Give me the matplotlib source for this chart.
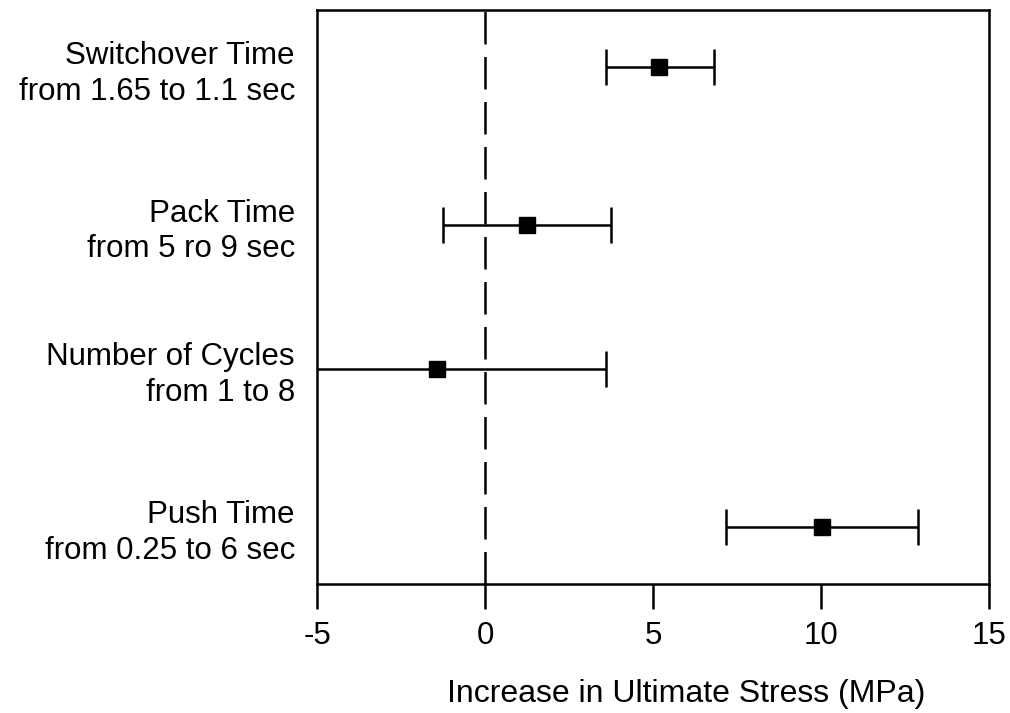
import numpy as np
from matplotlib import pyplot as plt

plt.rcParams["font.family"] = ["Liberation Sans", "DejaVu Sans"]

# factors, effects and 95% interval ends (MPa)
factors = ["Switchover Time\nfrom 1.65 to 1.1 sec",
           "Pack Time\nfrom 5 ro 9 sec",
           "Number of Cycles\nfrom 1 to 8",
           "Push Time\nfrom 0.25 to 6 sec"]
row_pos = [3.6, 2.5, 1.5, 0.4]
effect = np.array([5.19, 1.24, -1.42, 10.02])
low = np.array([3.59, -1.25, -5.6, 7.16])
high = np.array([6.81, 3.75, 3.59, 12.89])

xticks = [-5, 0, 5, 10, 15]

fig = plt.figure(figsize=(10.1, 7.13), dpi=100)
ax = fig.add_axes([0.314, 0.181, 0.665, 0.805])

ax.axvline(0, color="black", linewidth=1.8, linestyle=(0, (13, 5)), zorder=1)

err = [effect - low, high - effect]
ax.errorbar(effect, row_pos, xerr=err, fmt="s", color="black", markersize=11,
            elinewidth=1.8, capsize=13, capthick=1.8, zorder=3)

ax.set_xlim(-5, 15)
ax.set_ylim(0, 4)
ax.set_xticks(xticks)
ax.set_xticklabels([str(x) for x in xticks])
ax.set_yticks(row_pos)
ax.set_yticklabels(factors, multialignment="right", linespacing=1.25)

ax.tick_params(axis="x", direction="out", length=18, width=1.8, pad=9, labelsize=22.5)
ax.tick_params(axis="y", length=0, pad=16, labelsize=22.5)
for sp in ax.spines.values():
    sp.set_linewidth(1.8)

ax.set_xlabel("Increase in Ultimate Stress (MPa)", fontsize=23)
ax.xaxis.set_label_coords(0.55, -0.165)

plt.savefig("out.png")
